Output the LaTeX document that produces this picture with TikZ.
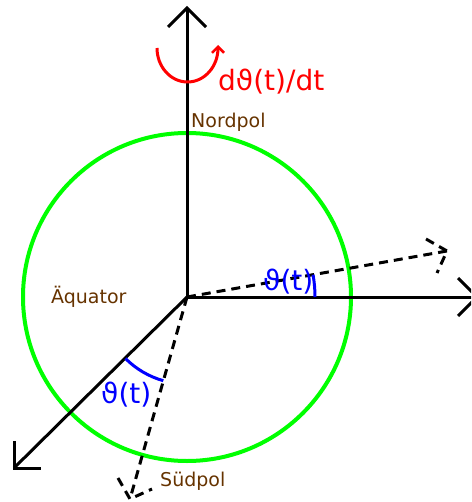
\documentclass[tikz,border=0pt]{standalone}
\usepackage{fontspec}
\setmainfont{DejaVu Sans}
\usetikzlibrary{arrows.meta}
\definecolor{poltext}{RGB}{102,51,0}
\definecolor{gruen}{RGB}{0,255,0}
\begin{document}
\begin{tikzpicture}[x=1pt,y=-1pt,
  axis/.style={line width=3pt,line join=miter},
  rot/.style={line width=3pt,dash pattern=on 9pt off 6pt},
  angarc/.style={line width=3pt,blue},
  poltxt/.style={inner sep=0pt,anchor=base west,text=poltext,font=\fontsize{19}{19}\selectfont},
  bigtxt/.style={inner sep=0pt,anchor=base west,font=\fontsize{28}{28}\selectfont}]
\useasboundingbox (0,0) rectangle (471,502);
\clip (0,0) rectangle (471,502);
% named points
\coordinate (O) at (187,297);
\coordinate (tipN) at (187,8);
\coordinate (tipE) at (477,297);
\coordinate (tipSW) at (14,468);
\coordinate (tipR) at (447,251);
\coordinate (tipS) at (130,499);
\coordinate (rotL) at (157,48);
% circle
\draw[gruen,line width=4pt] (O) circle[radius=164];
% axes
\draw[axis] (O) -- (tipN);
\draw[axis] (tipN) ++(-19,19) -- (tipN) -- ++(19,19);
\draw[axis] (O) -- (tipE);
\draw[axis] (tipE) ++(-19,-19) -- (tipE) -- ++(-19,19);
\draw[axis] (O) -- (tipSW);
\draw[axis] (tipSW) ++(0,-27) -- (tipSW) -- ++(27,0);
% rotated (dashed) axes
\draw[rot] (O) -- (tipR);
\draw[rot] (tipR) ++(-21,-12) -- (tipR) -- ++(-10,22);
\draw[rot] (O) -- (tipS);
\draw[rot] (tipS) ++(-12,-21) -- (tipS) -- ++(22,-10);
% angle arcs
\draw[angarc] (O) ++(0:128) arc[start angle=0,end angle=-10.03,radius=128];
\draw[angarc] (O) ++(135:87) arc[start angle=135,end angle=105.8,radius=87];
% rotation arrow
\draw[red,line width=3pt,-{Straight Barb[length=6pt,width=12pt,line width=2.5pt]}]
  (rotL) arc[start angle=180,end angle=0,x radius=30.5,y radius=34] -- ++(0,-3);
% labels
\node[poltxt] (nord) at (191,128) {Nordpol};
\node[poltxt] (aeq) at (51,303) {Äquator};
\node[poltxt] (sued) at (160,486) {Südpol};
\node[bigtxt,text=red] (rate) at (218,91) {dϑ(t)/dt};
\node[bigtxt,text=blue] (th1) at (263,290) {ϑ(t)};
\node[bigtxt,text=blue] (th2) at (101,403) {ϑ(t)};
\end{tikzpicture}
\end{document}
